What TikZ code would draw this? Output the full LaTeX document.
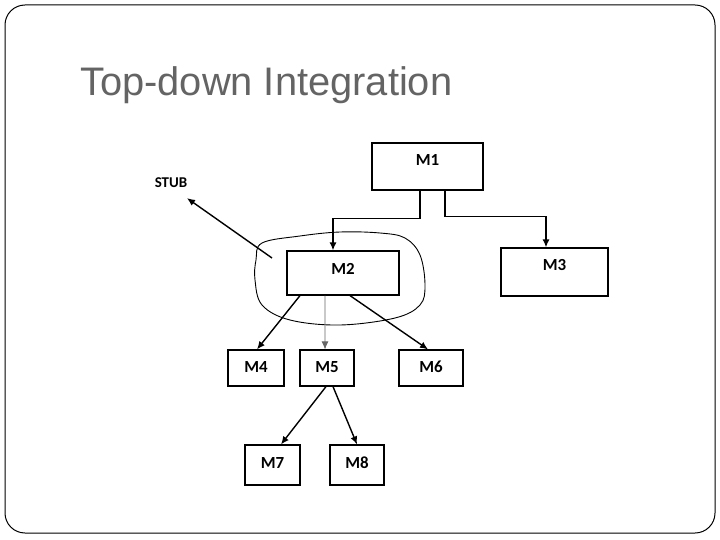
\documentclass[tikz,border=0pt]{standalone}
\usepackage{fontspec}
\setmainfont{Liberation Sans}
\newfontfamily\boxfont{Carlito}
\usetikzlibrary{arrows.meta}
\definecolor{titlegray}{RGB}{100,100,100}
\tikzset{
  modbox/.style={draw, line width=1.2bp, inner sep=0pt, text height=11bp, text depth=0bp,
    font=\boxfont\bfseries\fontsize{17}{20}\selectfont},
  topbox/.style={modbox, text depth=13bp},
  arr/.style={-{Latex[length=8bp,width=7bp]}, line width=1.4bp},
  thinarr/.style={-{Latex[length=8bp,width=7bp]}, line width=0.7bp, draw=black!60}
}

\begin{document}
\begin{tikzpicture}[x=1bp, y=-1bp]
\useasboundingbox (0,0) rectangle (720,540);
\draw[line width=1bp, rounded corners=20bp] (5,5) rectangle (715,533);
\node[anchor=base west, text=titlegray, font=\fontsize{40}{48}\selectfont, inner sep=0pt] (title) at (80,96) {Top-down Integration};

% modules
\node[topbox, minimum width=111bp, minimum height=47bp] (m1) at (427.5,166.5) {M1};
\node[topbox, minimum width=112bp, minimum height=44bp, text depth=8bp] (m2) at (343,273) {M2};
\node[topbox, minimum width=107bp, minimum height=48bp, text depth=14bp] (m3) at (554.5,272) {M3};
\node[modbox, minimum width=56bp, minimum height=36bp, text depth=2bp] (m4) at (256,368) {M4};
\node[modbox, minimum width=54bp, minimum height=36bp, text depth=2bp] (m5) at (327,368) {M5};
\node[modbox, minimum width=64bp, minimum height=36bp, text depth=2bp] (m6) at (431,368) {M6};
\node[modbox, minimum width=55bp, minimum height=40bp, text depth=4bp] (m7) at (272.5,465) {M7};
\node[modbox, minimum width=54bp, minimum height=40bp, text depth=4bp] (m8) at (357,465) {M8};
\node[font=\boxfont\bfseries\fontsize{15}{18}\selectfont, inner sep=0pt] (stub) at (171,183) {STUB};

% stub around M2
\draw[line width=0.9bp] plot[smooth cycle, tension=0.6] coordinates {
  (262,243) (300,236) (340,232) (380,233) (405,238) (420,255) (425,285)
  (420,305) (395,318) (340,325) (290,320) (262,305) (255,280) (256,260)};
\coordinate (stubfrom) at (272,258);
\draw[arr] (stubfrom) -- ([xshift=16bp, yshift=-10bp]stub.south);

% calls
\draw[arr] ([xshift=-7.5bp]m1.south) -- ++(0,28) -| ([xshift=-10bp]m2.north);
\draw[arr] ([xshift=17.5bp]m1.south) -- ++(0,26) -| ([xshift=-8.5bp]m3.north);
\draw[arr] ([xshift=-43bp]m2.south) -- ([xshift=1bp]m4.north);
\draw[thinarr] ([xshift=-18bp]m2.south) -- ([xshift=-2bp]m5.north);
\draw[arr] ([xshift=7bp]m2.south) -- ([xshift=-3bp]m6.north);
\draw[arr] ([xshift=-1bp]m5.south) -- ([xshift=8.5bp]m7.north);
\draw[arr] ([xshift=6bp]m5.south) -- (m8.north);
\end{tikzpicture}
\end{document}
